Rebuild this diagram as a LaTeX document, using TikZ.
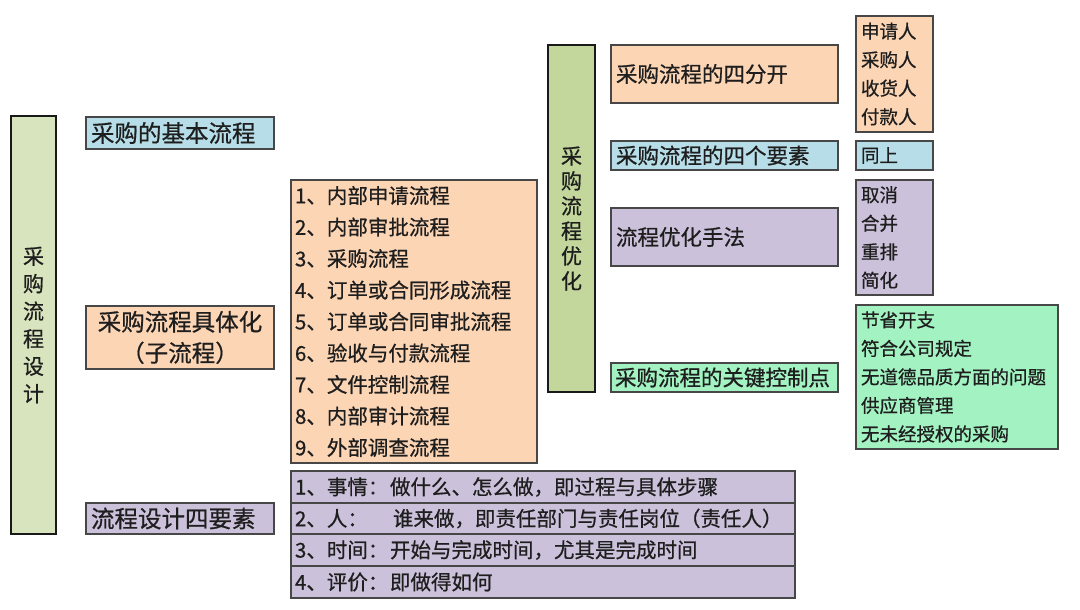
\documentclass[tikz,border=0pt]{standalone}
\usepackage{fontspec}
\setmainfont{Noto Sans CJK SC}[FakeBold=0.7]
\definecolor{lgreen}{HTML}{D7E4BD}
\definecolor{olive}{HTML}{C3D69B}
\definecolor{lblue}{HTML}{B7DEE8}
\definecolor{lorange}{HTML}{FCD5B5}
\definecolor{lpurple}{HTML}{CCC1DA}
\definecolor{mint}{HTML}{A2F2C2}
\definecolor{ink}{HTML}{1E1E1E}
\tikzset{
  box/.style={draw=black!72, line width=1.3pt, anchor=north west, outer sep=0pt,
    inner xsep=5pt, inner ysep=0pt, align=left, text=ink},
  tallbox/.style={draw=black!90, line width=2.5pt, anchor=north west, outer sep=0pt,
    inner sep=0pt, align=center, text=ink},
  fbig/.style={font=\fontsize{23.5}{28}\selectfont},
  fmid/.style={font=\fontsize{21.5}{26}\selectfont},
  flist/.style={font=\fontsize{20.5}{31.5}\selectfont},
  fsmall/.style={font=\fontsize{18.5}{28.5}\selectfont},
}
\begin{document}
\begin{tikzpicture}[x=1pt,y=-1pt]
\path[use as bounding box, fill=white] (0,0) rectangle (1080,610);

% left column
\node[tallbox, fill=lgreen, minimum width=45pt, minimum height=418pt, text width=45pt,
  font=\fontsize{21}{27.5}\selectfont] (L) at (11,116) {采\\购\\流\\程\\设\\计};
\node[box, fill=lblue, fbig, minimum width=188pt, minimum height=32pt, text width=178pt] (a1) at (86,117) {采购的基本流程};
\node[box, fill=lorange, minimum width=188pt, minimum height=63pt, text width=178pt, align=center,
  font=\fontsize{23.5}{31}\selectfont] (a2) at (86,306) {采购流程具体化\\（子流程）};
\node[box, fill=lpurple, fbig, minimum width=188pt, minimum height=31pt, text width=178pt] (a3) at (86,503) {流程设计四要素};

% sub-process list
\node[box, fill=lorange, flist, inner xsep=4pt, minimum width=246pt, minimum height=283pt, text width=238pt] (S) at (291,180)
 {1、内部申请流程\\2、内部审批流程\\3、采购流程\\4、订单或合同形成流程\\5、订单或合同审批流程\\6、验收与付款流程\\7、文件控制流程\\8、内部审计流程\\9、外部调查流程};

% four elements rows
\node[box, fill=lpurple, flist, inner xsep=4pt, minimum width=504pt, minimum height=32pt, text width=496pt] (r1) at (291,471)
 {\makebox[95pt][l]{1、事情：}做什么、怎么做，即过程与具体步骤};
\node[box, fill=lpurple, flist, inner xsep=4pt, minimum width=504pt, minimum height=31pt, text width=496pt] (r2) at (291,503)
 {\makebox[98pt][l]{2、人：}谁来做，即责任部门与责任岗位（责任人）};
\node[box, fill=lpurple, flist, inner xsep=4pt, minimum width=504pt, minimum height=32pt, text width=496pt] (r3) at (291,534)
 {\makebox[95pt][l]{3、时间：}开始与完成时间，尤其是完成时间};
\node[box, fill=lpurple, flist, inner xsep=4pt, minimum width=504pt, minimum height=32pt, text width=496pt] (r4) at (291,566)
 {\makebox[95pt][l]{4、评价：}即做得如何};

% middle column
\node[tallbox, fill=olive, minimum width=47pt, minimum height=347pt, text width=47pt,
  font=\fontsize{21}{25}\selectfont] (M) at (548,45) {采\\购\\流\\程\\优\\化};
\node[box, fill=lorange, fmid, minimum width=227pt, minimum height=58pt, text width=217pt] (m1) at (611,45) {采购流程的四分开};
\node[box, fill=lblue, fmid, minimum width=227pt, minimum height=29pt, text width=217pt] (m2) at (611,141) {采购流程的四个要素};
\node[box, fill=lpurple, fmid, minimum width=227pt, minimum height=58pt, text width=217pt] (m3) at (611,208) {流程优化手法};
\node[box, fill=mint, fmid, inner xsep=4pt, minimum width=227pt, minimum height=29pt, text width=219pt] (m4) at (611,363) {采购流程的关键控制点};

% right column
\node[box, fill=lorange, fsmall, minimum width=77pt, minimum height=116pt, text width=67pt] (n1) at (856,16) {申请人\\采购人\\收货人\\付款人};
\node[box, fill=lblue, fsmall, minimum width=77pt, minimum height=29pt, text width=67pt] (n2) at (856,141) {同上};
\node[box, fill=lpurple, fsmall, minimum width=77pt, minimum height=115pt, text width=67pt] (n3) at (856,180) {取消\\合并\\重排\\简化};
\node[box, fill=mint, fsmall, minimum width=202pt, minimum height=144pt, text width=192pt] (n4) at (856,305)
 {节省开支\\符合公司规定\\无道德品质方面的问题\\供应商管理\\无未经授权的采购};
\end{tikzpicture}
\end{document}
